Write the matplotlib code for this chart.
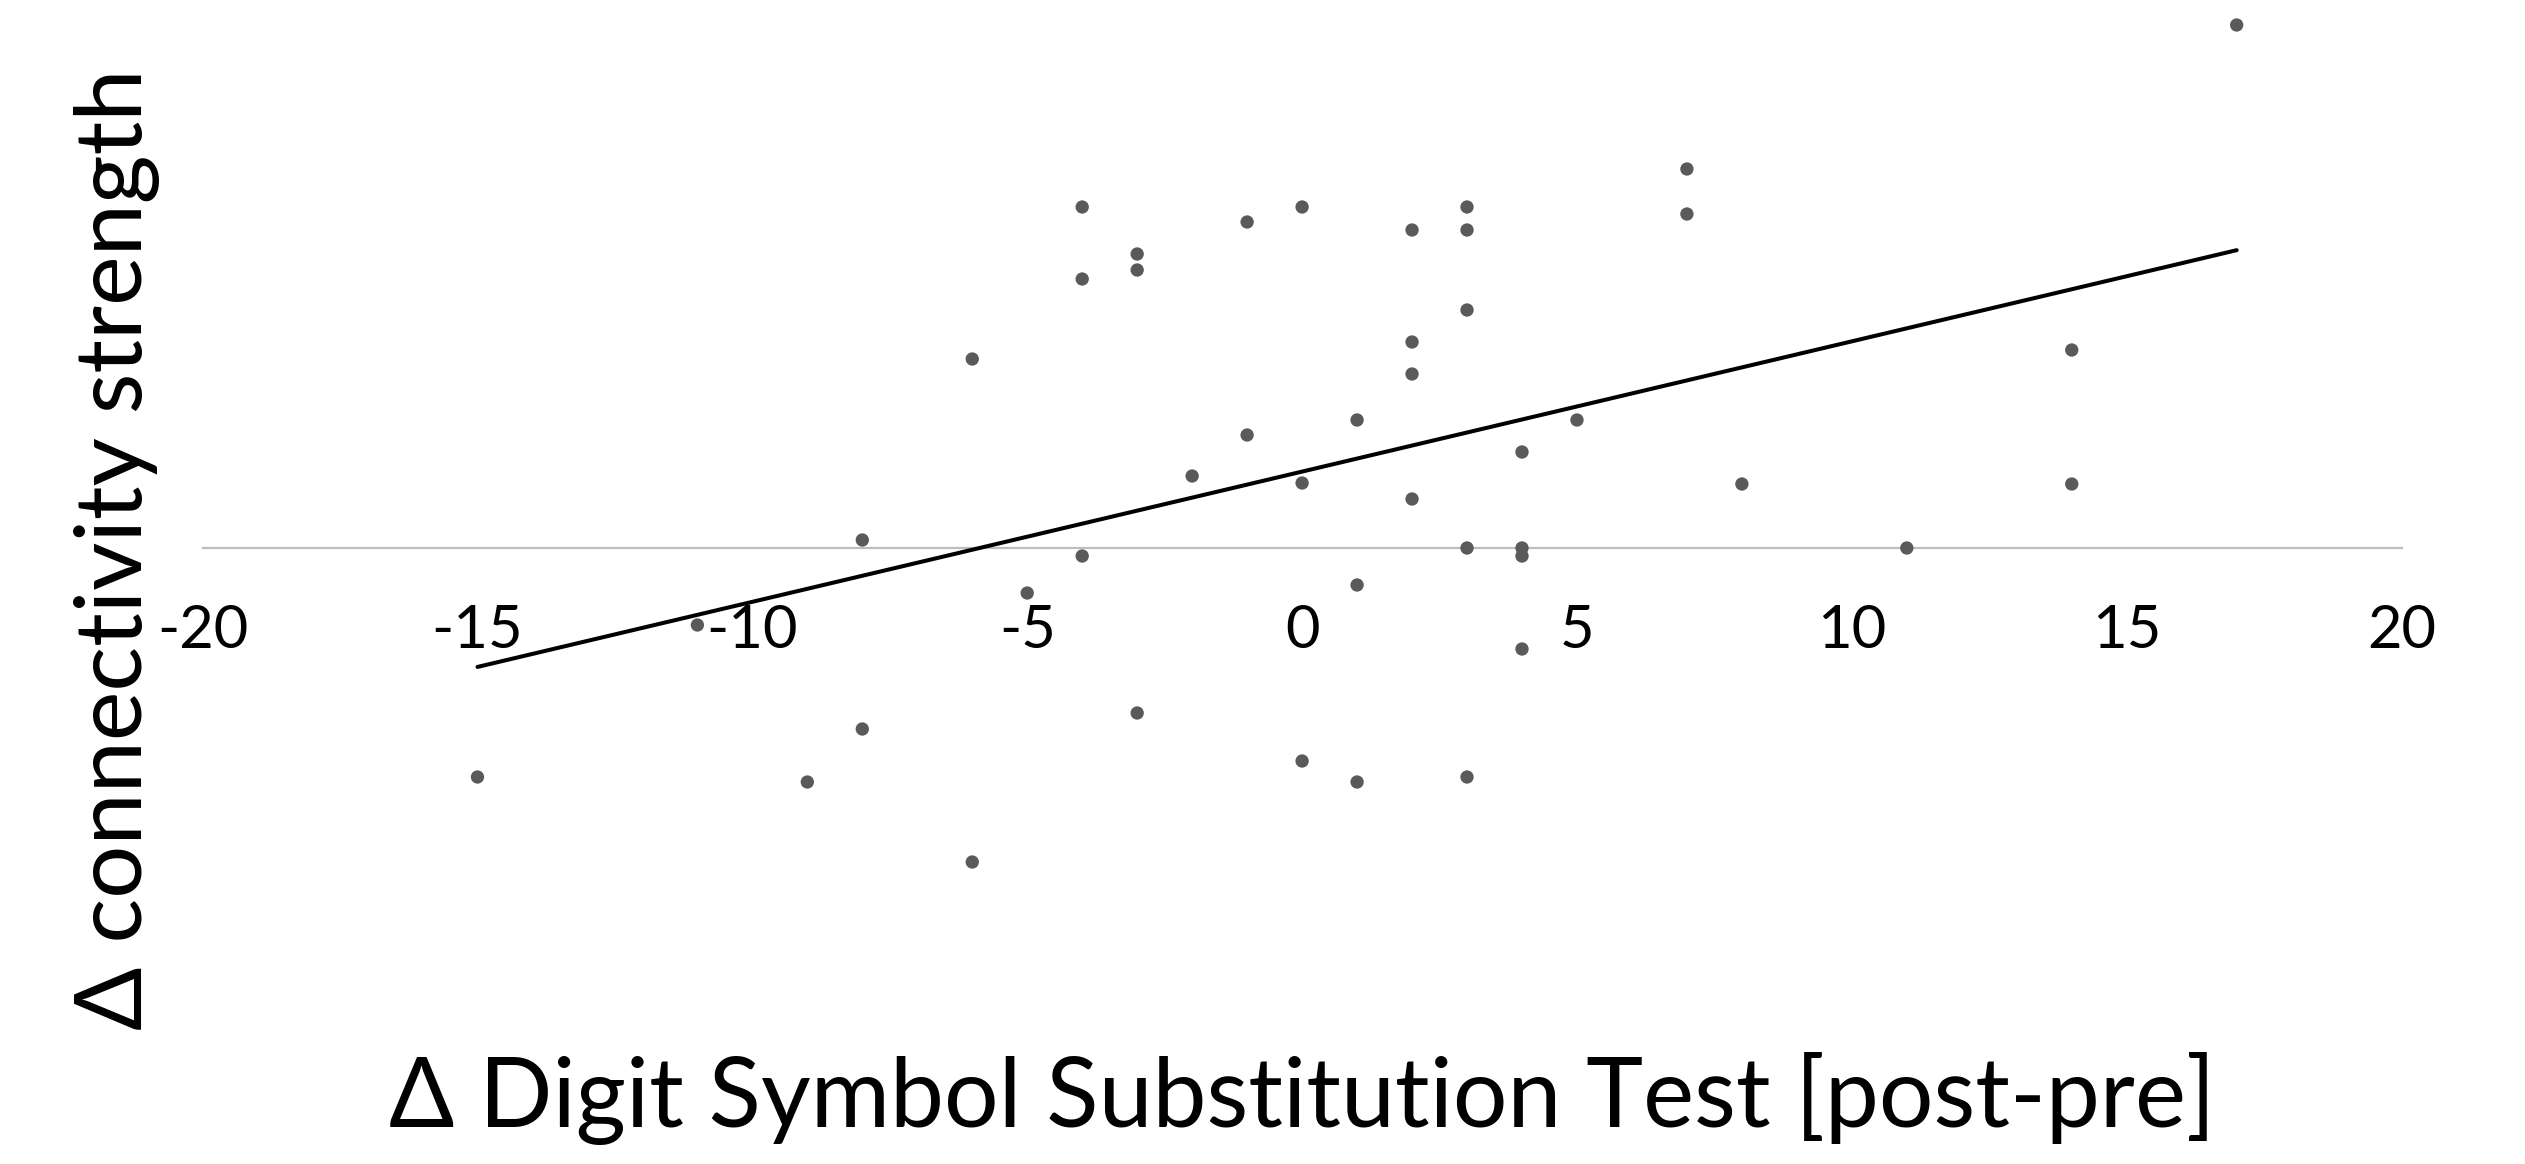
import numpy as np
import matplotlib
matplotlib.use("Agg")
import matplotlib.pyplot as plt

# ---- data ----
dsst_change = [-15, -11, -9, -8, -8, -6, -6, -5, -4, -4, -4, -3, -3, -3, -2, -1, -1,
               0, 0, 0, 1, 1, 1, 2, 2, 2, 2, 3, 3, 3, 3, 3, 4, 4, 4, 4, 5, 7, 7, 8,
               11, 14, 14, 17]
connectivity_change = [-0.229, -0.077, -0.234, 0.008, -0.181, 0.189, -0.314, -0.045,
                       0.341, 0.269, -0.008, 0.294, 0.278, -0.165, 0.072, 0.326, 0.113,
                       0.341, 0.065, -0.213, 0.128, -0.037, -0.234, 0.318, 0.206, 0.174,
                       0.049, 0.341, 0.318, 0.238, 0.000, -0.229, 0.096, 0.000, -0.008,
                       -0.101, 0.128, 0.379, 0.334, 0.064, 0.000, 0.198, 0.064, 0.523]
x_ticks = [-20, -15, -10, -5, 0, 5, 10, 15, 20]
x_label = "Δ Digit Symbol Substitution Test [post-pre]"
y_label = "Δ connectivity strength"

W, H = 2525, 1164
DPI = 100
plt.rcParams["font.family"] = ["Lato", "DejaVu Sans"]

fig = plt.figure(figsize=(W / DPI, H / DPI), dpi=DPI)
left_px, right_px = 202.6, 2401.6
top_px, bot_px = 10, 1090
ax = fig.add_axes([left_px / W, 1 - bot_px / H, (right_px - left_px) / W, (bot_px - top_px) / H])

x = np.array(dsst_change, dtype=float)
y = np.array(connectivity_change, dtype=float)

ax.scatter(x, y, s=92, color="#5a5a5a", edgecolors="none", zorder=3)

slope, intercept = np.polyfit(x, y, 1)
xl = np.array([x.min(), x.max()])
ax.plot(xl, slope * xl + intercept, color="black", lw=2.9, solid_capstyle="round", zorder=4)

ax.set_xlim(-20, 20)
ax.set_ylim((548 - bot_px) / 1000, (548 - top_px) / 1000)

for s in ["top", "right", "left"]:
    ax.spines[s].set_visible(False)
ax.spines["bottom"].set_position(("data", 0))
ax.spines["bottom"].set_color("#bdbdbd")
ax.spines["bottom"].set_linewidth(1.6)
ax.spines["bottom"].set_zorder(1)
ax.set_yticks([])
ax.set_xticks(x_ticks)
ax.set_xticklabels([str(t) for t in x_ticks])
ax.tick_params(axis="x", length=0, pad=40, labelsize=43, labelcolor="black")
ax.patch.set_visible(False)

fig.text((left_px + right_px) / 2 / W, 1 - 1127 / H, x_label, ha="center", va="baseline",
         fontsize=69.5, color="black")
fig.text(141.7 / W, 1 - 549 / H, y_label, ha="center", va="baseline", rotation=90,
         rotation_mode="anchor", fontsize=67.5, color="black")

fig.savefig("out.png", dpi=DPI, facecolor="white")
